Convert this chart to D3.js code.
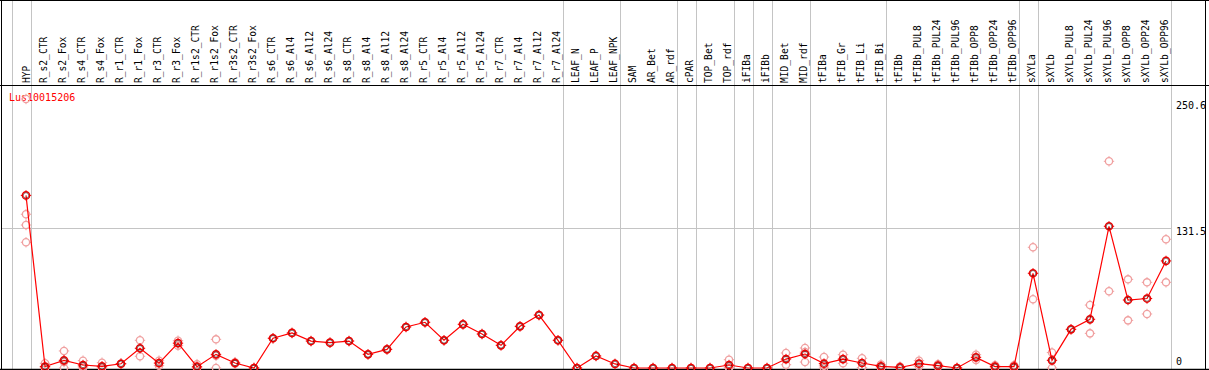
<!DOCTYPE html>
<html>
<head>
<meta charset="utf-8">
<script src="https://cdn.jsdelivr.net/npm/d3@7"></script>
<style>
  html, body { margin: 0; padding: 0; background: #fff; }
  svg { display: block; }
  text { font-family: "DejaVu Sans Mono", "Liberation Mono", monospace; }
</style>
</head>
<body>
<svg id="chart" width="1209" height="370"></svg>
<script>
const categories = ["HYP","R_s2_CTR","R_s2_Fox","R_s4_CTR","R_s4_Fox","R_r1_CTR","R_r1_Fox","R_r3_CTR","R_r3_Fox",
  "R_r1s2_CTR","R_r1s2_Fox","R_r3s2_CTR","R_r3s2_Fox","R_s6_CTR","R_s6_Al4","R_s6_Al12","R_s6_Al24",
  "R_s8_CTR","R_s8_Al4","R_s8_Al12","R_s8_Al24","R_r5_CTR","R_r5_Al4","R_r5_Al12","R_r5_Al24",
  "R_r7_CTR","R_r7_Al4","R_r7_Al12","R_r7_Al24","LEAF_N","LEAF_P","LEAF_NPK","SAM","AR_Bet","AR_rdf",
  "cPAR","TOP_Bet","TOP_rdf","iFIBa","iFIBb","MID_Bet","MID_rdf","tFIBa","tFIB_Gr","tFIB_Li","tFIB_Bi",
  "tFIBb","tFIBb_PUL8","tFIBb_PUL24","tFIBb_PUL96","tFIBb_OPP8","tFIBb_OPP24","tFIBb_OPP96",
  "sXYLa","sXYLb","sXYLb_PUL8","sXYLb_PUL24","sXYLb_PUL96","sXYLb_OPP8","sXYLb_OPP24","sXYLb_OPP96"];

const meanValues = [162, 1.4, 7.2, 2.8, 1.6, 4.0, 18.5, 4.6, 23.3,
  1.2, 12.8, 4.7, 0, 27.9, 32.9, 25.3, 23.8,
  25.3, 12.8, 17.5, 38.5, 42.9, 26, 41, 31.9,
  21.3, 39.1, 49.7, 26, 0, 11.3, 3.8, 0, 0, 0,
  0, 0, 2.8, 0, 0, 8.4, 13.1, 4.1, 8.4, 4.7, 1.6,
  0.5, 4.1, 2.2, 0, 10, 1.3, 1.3,
  88.9, 7.2, 36.3, 45.7, 133, 63.8, 65.2, 100.5];

const replicateValues = [
  [252.5, 144.3, 134.2, 118], [4.4, 0, 0], [16, 5.6, 0], [6.9, 1.5, 0], [5, 0, 0], [4.0, 4.0], [26, 11], [6.9, 2.2], [25.6, 21],
  [3.6, 0, 0], [26.9, 11.5, 0], [5.5, 3.9], [0, 0], [27.9], [32.9], [25.3], [23.8],
  [25.3], [12.8], [17.5], [38.5], [42.9], [26], [41], [31.9],
  [21.3], [39.1], [49.7], [26], [0], [11.3], [3.8], [0], [0], [0],
  [0], [0], [7.8, 0.6, 0], [0], [0], [14.1, 3.1], [18.8, 14.9, 5.6], [10.3, 2, 0], [12.5, 4.4], [9.1, 0.3], [3.3, 0],
  [1.3, 0, 0], [6.9, 1.3], [3.5, 0.9], [0, 0], [12.5, 7.5], [2.6, 0], [2.6, 0],
  [113.3, 64.5], [14.5, 0], [36.3], [59.1, 32.5], [194, 72], [83.2, 44.7], [80.4, 50.7], [120.8, 80.4]];

const groupEnds = ["HYP","R_r7_Al24","LEAF_NPK","AR_rdf","cPAR","TOP_rdf","iFIBa","iFIBb","MID_rdf","tFIB_Bi","tFIBb_OPP96","sXYLa","sXYLb_OPP96"];
const yTicks = [0, 131.5, 250.6];
const yTickLabels = ["0", "131.5", "250.6"];
const geneName = "Lus10015206";

const svg = d3.select("#chart");
const W = 1209, H = 370;
const plotLeft = 1, plotRight = 1170.5, headerY = 85, bottomY = 369;

const x = d3.scalePoint().domain(categories).range([26, 1166]);
const step = x.step();
const y = d3.scaleLinear().domain([0, 250.6]).range([368, 101]);

// group separators
const sepX = [x(categories[0]) - step + 4.5].concat(groupEnds.map(c => x(c) + 4.5));
svg.append("g").selectAll("line").data(sepX).join("line")
  .attr("x1", d => Math.round(d) + 0.5).attr("x2", d => Math.round(d) + 0.5)
  .attr("y1", 0).attr("y2", bottomY)
  .attr("stroke", "#c4c4c4").attr("stroke-width", 1);

// horizontal grid at middle tick
svg.append("line")
  .attr("x1", plotLeft).attr("x2", Math.round(plotRight) + 0.5)
  .attr("y1", Math.round(y(131.5)) + 0.5).attr("y2", Math.round(y(131.5)) + 0.5)
  .attr("stroke", "#c4c4c4").attr("stroke-width", 1);

// borders
svg.append("line").attr("x1", 0).attr("x2", W).attr("y1", 0.5).attr("y2", 0.5).attr("stroke", "#000");
svg.append("line").attr("x1", 0).attr("x2", W).attr("y1", headerY + 0.5).attr("y2", headerY + 0.5).attr("stroke", "#000");
svg.append("line").attr("x1", 0).attr("x2", W).attr("y1", bottomY + 0.5).attr("y2", bottomY + 0.5).attr("stroke", "#000").attr("stroke-width", 1.5);
svg.append("line").attr("x1", 1.5).attr("x2", 1.5).attr("y1", 0).attr("y2", H).attr("stroke", "#000");
svg.append("line").attr("x1", 1205.5).attr("x2", 1205.5).attr("y1", 0).attr("y2", H).attr("stroke", "#000");

// column labels
svg.append("g").selectAll("text").data(categories).join("text")
  .attr("transform", (d, i) => `translate(${x(d) + (i === 0 ? 3.5 : 1.5)},83) rotate(-90)`)
  .attr("font-size", "9.6px").attr("fill", "#000")
  .text(d => d);

// gene label
svg.append("text").attr("x", 9).attr("y", 101).attr("font-size", "10px").attr("fill", "#ff0000").text(geneName);

// right axis labels
svg.append("g").selectAll("text").data(yTicks).join("text")
  .attr("x", 1176)
  .attr("y", d => Math.min(y(d) + 7.5, 365))
  .attr("font-size", "10px").attr("fill", "#000")
  .text((d, i) => yTickLabels[i]);

function marker(g, cx, cy, color, sw, inner) {
  const r = 3.6;
  g.append("circle").attr("cx", cx).attr("cy", cy).attr("r", r)
    .attr("fill", "none").attr("stroke", color).attr("stroke-width", sw);
  if (inner) {
    g.append("circle").attr("cx", cx).attr("cy", cy).attr("r", r - 0.9)
      .attr("fill", "none").attr("stroke", inner).attr("stroke-width", 0.7).attr("stroke-opacity", 0.7);
  }
  [[0, -1], [0, 1], [-1, 0], [1, 0]].forEach(([dx, dy]) => {
    g.append("line")
      .attr("x1", cx + dx * r).attr("y1", cy + dy * r)
      .attr("x2", cx + dx * (r + 1.6)).attr("y2", cy + dy * (r + 1.6))
      .attr("stroke", color).attr("stroke-width", 1);
  });
}

// replicates
const repG = svg.append("g");
categories.forEach((c, i) => {
  replicateValues[i].forEach(v => marker(repG, x(c), y(v), "#f0a0a0", 1.3, null));
});

// mean line
const line = d3.line().x((d, i) => x(categories[i])).y(d => y(d));
svg.append("path").datum(meanValues).attr("d", line)
  .attr("fill", "none").attr("stroke", "#ff0000").attr("stroke-width", 1.2);

// mean markers
const meanG = svg.append("g");
categories.forEach((c, i) => marker(meanG, x(c), y(meanValues[i]), "#ee0000", 1.5, "#200000"));
</script>
</body>
</html>
